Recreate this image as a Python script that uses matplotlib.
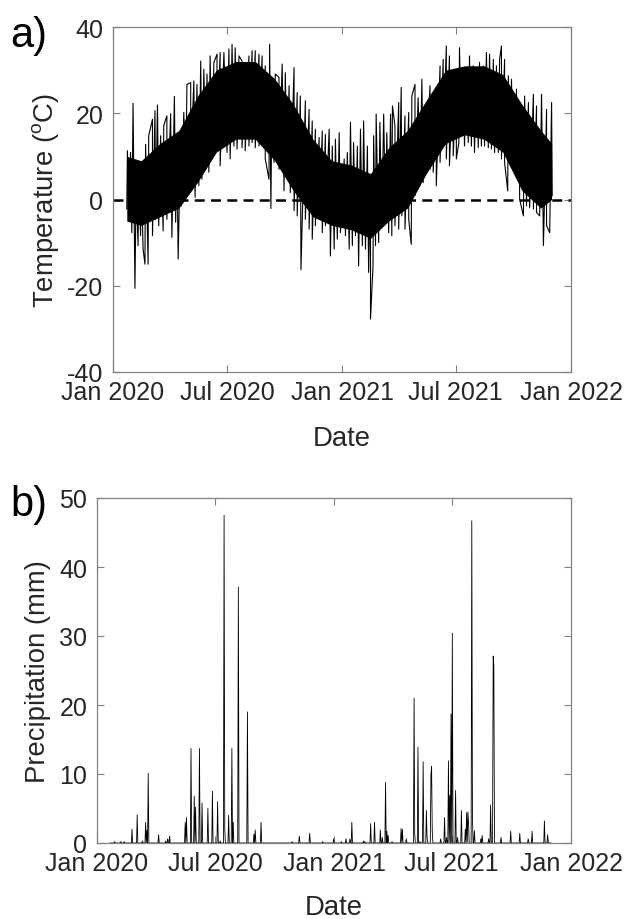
import numpy as np
import matplotlib
matplotlib.use("Agg")
import matplotlib.pyplot as plt
import matplotlib.dates as mdates

plt.rcParams['font.family'] = ['Liberation Sans', 'DejaVu Sans']
plt.rcParams['mathtext.fontset'] = 'custom'
plt.rcParams['mathtext.rm'] = 'Liberation Sans'
plt.rcParams['mathtext.it'] = 'Liberation Sans:italic'
plt.rcParams['axes.unicode_minus'] = False

START = np.datetime64('2020-01-01')

# ---- Temperature: read extremes (days since 2020-01-01, degC) ----
high_days = [23, 28, 32, 37, 41, 45, 52, 57, 63, 67, 71, 76, 81, 86, 92, 98, 102, 108, 113, 118,
             124, 129, 134, 140, 145, 150, 155, 161, 166, 171,
             177, 185, 190, 195, 201, 206, 211, 217, 222, 227, 233, 238, 243, 250, 254, 259, 265, 270,
             275, 281, 289, 294, 299, 307, 313, 318, 323, 329, 334, 339, 345, 350, 355, 361,
             369, 374, 379, 384, 390, 395, 400, 406, 411, 416, 420, 426, 432, 437, 443, 446, 450, 456,
             460, 466, 472, 477, 482, 487, 493, 500, 506, 511, 516, 522, 527, 532, 537, 543,
             548, 553, 559, 564, 569, 575, 580, 585, 591, 596, 601, 607, 612, 617, 620, 625, 631, 636,
             644, 649, 657, 663, 671, 676, 684, 692, 700]
temp_high = [11.3, 10.9, 22.3, 3.9, 5.5, 7.8, 12.8, 14.8, 18.6, 20.6, 21.9, 14.8, 17.1, 19.4, 19.9,
             23.9, 12.4, 15.5, 20.2, 26.7, 27.1, 27.5, 26.7, 32.1, 30.2, 29.1, 33.3, 31.8, 33.7, 34.1,
             34.1, 34.9, 36.0, 35.2, 33.3, 32.1, 31.0, 33.3, 34.5, 34.5, 33.7, 33.3, 31.0, 36.0, 27.9,
             29.1, 28.3, 31.4, 29.4, 26.4, 30.6, 24.8, 24.0, 22.9, 20.9, 18.2, 16.3, 14.4, 15.9, 15.1,
             16.3, 12.4, 14.0, 15.5,
             9.4, 10.9, 17.9, 13.2, 12.4, 16.3, 18.2, 12.4, 5.5, 14.8, 19.8, 17.9, 19.8, 15.5, 19.8,
             21.7, 17.1, 22.5, 26.0, 19.4, 20.2, 24.0, 26.7, 23.6, 27.9, 15.1, 26.4, 24.4, 23.3, 31.0,
             32.5, 35.6, 33.3, 30.2,
             28.3, 35.2, 29.1, 30.2, 33.3, 31.0, 30.2, 31.8, 31.0, 34.1, 33.7, 32.5, 31.0, 32.5, 35.6,
             32.5, 28.7, 27.9, 25.6, 20.9, 24.0, 22.5, 24.4, 21.7, 24.4, 20.9, 22.5]
low_days = [22, 25, 30, 35, 40, 44, 48, 51, 56, 63, 68, 73, 80, 86, 94, 100, 104, 109, 116, 124,
            131, 137, 142, 148, 153, 158, 166, 171,
            182, 187, 193, 198, 206, 211, 217, 222, 227, 233, 238, 243, 249, 252, 257, 265, 273, 278,
            283, 289, 294, 300, 307, 313, 318, 323, 329, 334, 339, 347, 353, 358, 363,
            371, 377, 382, 387, 392, 398, 403, 408, 411, 415, 419, 424, 429, 435, 440, 445, 450, 456,
            461, 466, 472, 476, 482, 490, 495, 501, 506, 511, 516, 522, 527, 532, 537, 543,
            548, 552, 556, 561, 567, 572, 577, 583, 588, 593, 599, 604, 609, 615, 620, 625, 630, 633,
            639, 644, 649, 655, 660, 665, 671, 676, 681, 687, 692, 697, 701]
temp_low = [-2.2, -4.6, -7.7, -20.6, -10.7, -8.4, -11.5, -15.0, -15.0, -8.4, -4.6, -6.1, -7.3, -4.6,
            -8.8, -5.3, -13.8, -1.5, 3.2, 7.0, 0.5, 3.2, 4.7, 7.8, 6.3, 9.4, 11.3, 7.8,
            10.9, 9.4, 12.4, 11.7, 12.0, 11.3, 12.4, 13.2, 12.0, 12.4, 12.8, 9.4, 4.7, -2.1, 8.6, 7.0,
            2.0, 5.5, 1.6, -2.6, -3.8, -16.3, -4.6, -6.9, -9.2, -6.1, -4.6, -7.7, -6.1, -13.1, -11.5,
            -9.2, -7.7,
            -8.4, -11.5, -10.7, -8.4, -15.4, -10.7, -11.5, -16.9, -27.7, -15.4, -10.7, -10.0, -6.1,
            -4.6, -7.7, -8.4, -6.1, -6.9, -3.8, -6.9, -4.6, -10.4, 0.9, 3.2, 3.9, 12.4, 7.0, 6.3, 3.2,
            8.6, 12.4, 9.4, 7.8, 10.1,
            9.4, 13.2, 15.5, 12.4, 13.2, 12.4, 10.9, 12.0, 12.4, 12.4, 12.0, 11.7, 10.9, 10.9, 9.4,
            8.6, 2.0, 8.6, 7.0, 5.5, 0.1, -3.8, -1.5, -1.9, -2.2, -3.0, -3.8, -10.7, -6.1, -7.7, 0.9]

# dense core of the hourly trace (where the line is solid black), read per month
core_days = [22, 45, 75, 105, 135, 165, 196, 227, 258, 288, 319, 349,
             380, 411, 440, 470, 500, 531, 561, 592, 622, 653, 683, 700]
core_high = [10, 9, 13, 16, 24, 30, 32, 32, 28, 22, 14, 9,
             8, 6, 12, 16, 23, 30, 31, 31, 29, 22, 16, 13]
core_low = [-5, -6, -4, -2, 4, 11, 14, 14, 9, 2, -4, -6,
            -7, -9, -5, -2, 6, 13, 15, 14, 11, 2, -2, 0]

# ---- Precipitation: daily totals (days since 2020-01-01, mm) ----
precip_days = [27, 37, 42, 54, 62, 70, 75, 77, 79, 95, 106, 109, 112, 136, 138, 145, 150, 152, 158,
               162, 171, 178, 186, 190, 196, 197, 203, 208, 210, 218, 232, 242, 244, 253, 301, 312,
               328, 348, 365,
               377, 384, 390, 393, 411, 413, 422, 428, 437, 440, 445, 447, 449, 455, 469, 471, 477,
               489, 490, 495, 498, 503, 508, 509, 515, 516, 517, 530, 536, 539, 542, 544, 546, 548,
               553, 556, 562, 568, 570, 572, 573, 578, 579, 582, 592, 594, 604, 607, 611, 612, 623,
               638, 652, 665, 671, 690, 695]
precip_mm = [0.2, 0.2, 0.2, 2.0, 4.1, 0.3, 3.0, 1.8, 10.1, 1.2, 0.3, 0.6, 1.0, 3.0, 3.7, 13.7, 6.8,
             5.2, 13.7, 5.8, 5.0, 7.5, 6.0, 0.3, 47.5, 2.0, 4.0, 13.7, 3.0, 37.1, 19.0, 1.3, 1.9, 3.0,
             0.2, 1.0, 1.4, 0.2, 0.6,
             0.2, 0.6, 0.6, 3.0, 0.3, 0.2, 2.8, 3.0, 1.9, 0.8, 8.8, 1.7, 1.1, 0.2, 2.1, 2.0, 0.6,
             21.0, 1.3, 13.9, 0.2, 11.8, 4.7, 0.8, 9.9, 11.1, 1.8, 0.6, 3.7, 0.8, 11.9, 6.9, 18.7,
             30.4, 7.6, 0.8, 4.7, 2.0, 4.4, 4.5, 3.0, 46.7, 3.7, 1.8, 0.6, 1.1, 0.6, 5.5, 27.1, 25.7,
             0.8, 1.7, 1.4, 0.6, 1.7, 3.2, 1.2]
precip_first_day, precip_last_day = 20, 700

x_ticks = ['2020-01-01', '2020-07-01', '2021-01-01', '2021-07-01', '2022-01-01']

# ---- build series ----
all_days = np.concatenate([high_days, low_days])
all_temp = np.concatenate([temp_high, temp_low])
order = np.argsort(all_days, kind='stable')
t_dates = START + all_days[order].astype('timedelta64[D]')
t_vals = all_temp[order]
c_dates = START + np.asarray(core_days).astype('timedelta64[D]')

p_days = np.arange(precip_first_day, precip_last_day + 1)
p_vals = np.zeros(len(p_days))
for d, v in zip(precip_days, precip_mm):
    i = d - precip_first_day
    p_vals[i] = max(p_vals[i], v)
p_dates = START + p_days.astype('timedelta64[D]')

TXT = '#262626'
AX = '#808080'
W, H = 628, 920
fig = plt.figure(figsize=(W / 100, H / 100), dpi=100)

ax1 = fig.add_axes([113 / W, 1 - 373 / H, (571 - 113) / W, (373 - 28) / H])
ax2 = fig.add_axes([97 / W, 1 - 844 / H, (571 - 97) / W, (844 - 499) / H])

ax1.fill_between(c_dates, core_low, core_high, color='black', lw=0)
ax1.plot(t_dates, t_vals, color='black', lw=0.8)
ax1.axhline(0, color='black', lw=1.8, dashes=(4, 2.5))
ax1.set_ylim(-40, 40)
ax1.set_yticks([-40, -20, 0, 20, 40])
ax1.set_ylabel('Temperature ($^{\\rm o}$C)', fontsize=19.8, color=TXT, labelpad=4)

ax2.plot(p_dates, p_vals, color='black', lw=0.6)
ax2.set_ylim(0, 50)
ax2.set_yticks([0, 10, 20, 30, 40, 50])
ax2.set_ylabel('Precipitation (mm)', fontsize=19.8, color=TXT, labelpad=6)

tick_dates = np.array(x_ticks, dtype='datetime64[D]')
for ax, lp in ((ax1, 15), (ax2, 13.5)):
    ax.set_xlim(np.datetime64('2020-01-01'), np.datetime64('2022-01-01'))
    ax.set_xticks(tick_dates)
    ax.xaxis.set_major_formatter(mdates.DateFormatter('%b %Y'))
    ax.set_xlabel('Date', fontsize=19.8, color=TXT, labelpad=lp)
    ax.tick_params(direction='in', length=5, width=0.8, color=AX, labelcolor=TXT,
                   labelsize=18, top=True, right=True)
    ax.tick_params(axis='y', pad=7)
    ax.tick_params(axis='x', pad=6)
    for s in ax.spines.values():
        s.set_color(AX)
        s.set_linewidth(0.9)

fig.text(10 / W, 1 - 36 / H, 'a)', fontsize=30, color='black', ha='left', va='center')
fig.text(10 / W, 1 - 505 / H, 'b)', fontsize=30, color='black', ha='left', va='center')

fig.savefig('out.png', dpi=100, facecolor='white')
